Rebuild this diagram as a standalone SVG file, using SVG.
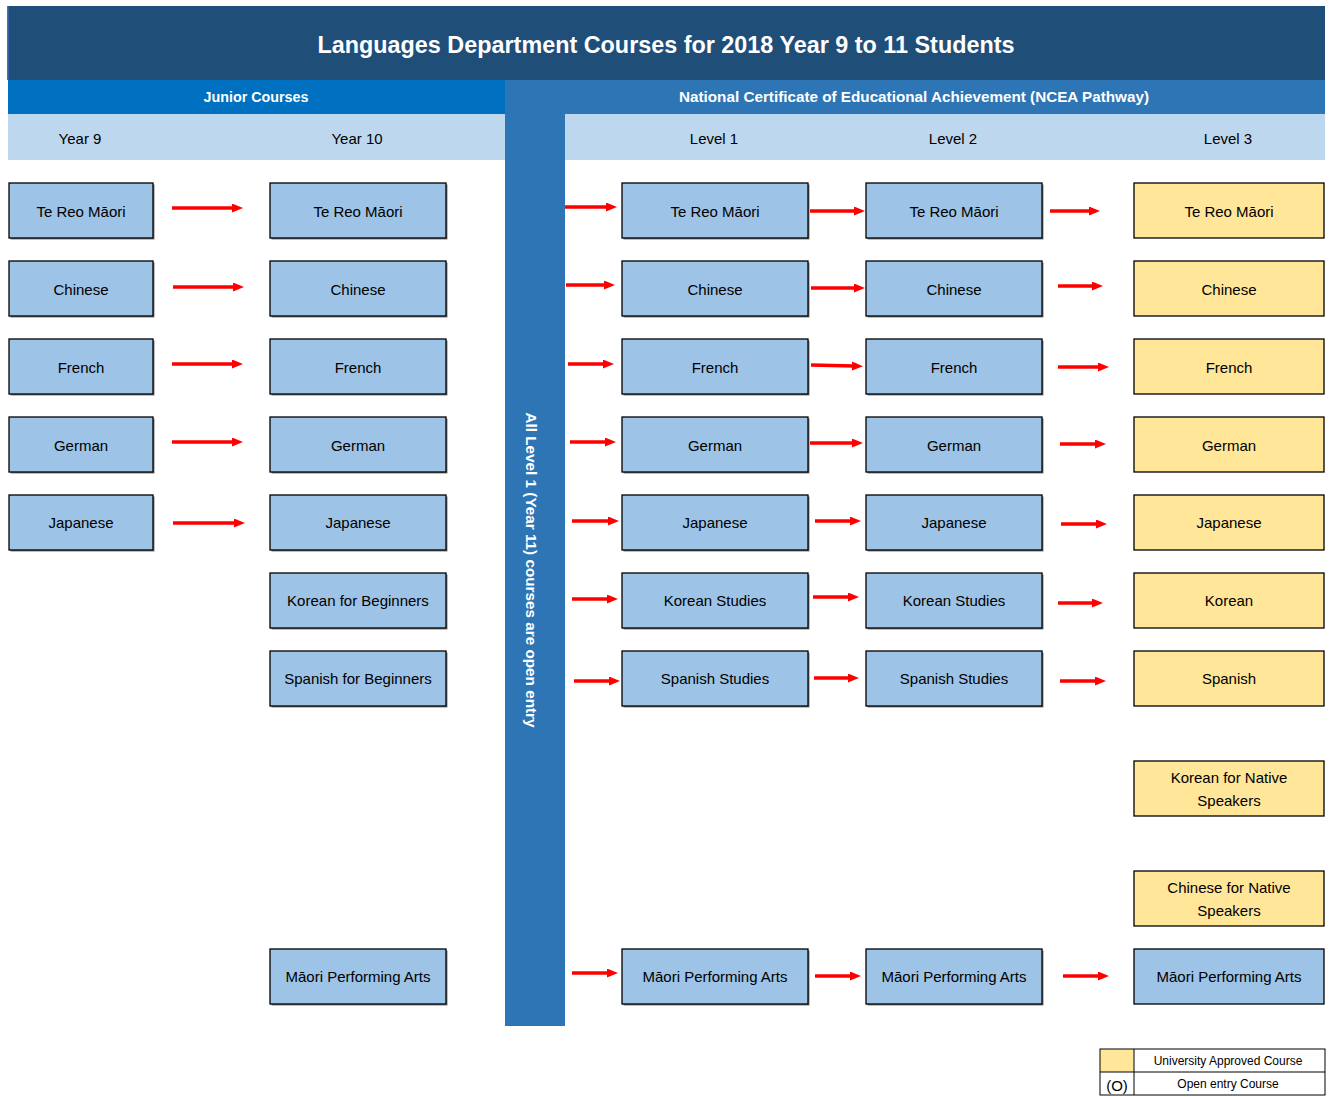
<svg xmlns="http://www.w3.org/2000/svg" width="1330" height="1097" viewBox="0 0 1330 1097">
<defs>
<marker id="ah" markerUnits="userSpaceOnUse" markerWidth="12" markerHeight="10" refX="2" refY="4.5" orient="auto">
<path d="M0,0 L11,4.5 L0,9 z" fill="#FF0000"/>
</marker>
</defs>
<style>
.t{font-family:"Liberation Sans",Arial,sans-serif;text-anchor:middle;dominant-baseline:central}
.bx{fill:#9DC3E6;stroke:#000;stroke-width:1.3}
.yl{fill:#FFE699;stroke:#000;stroke-width:1.3}
.sh{fill:#7f7f7f}
.lb{font-size:15px;fill:#000}
.hd{font-size:15px;fill:#000}
.ar{stroke:#FF0000;stroke-width:3.5;fill:none;marker-end:url(#ah)}
</style>
<rect width="1330" height="1097" fill="#FFFFFF"/>
<g id="header">
<rect x="8" y="6" width="1317" height="74" fill="#1F4E79"/>
<rect x="7" y="6" width="1.5" height="74" fill="#4472C4"/>
<text class="t" x="666" y="45" font-size="23" font-weight="bold" fill="#FFFFFF" textLength="697" lengthAdjust="spacingAndGlyphs">Languages Department Courses for 2018 Year 9 to 11 Students</text>
<rect x="8" y="80" width="497" height="34" fill="#0070C0"/>
<text class="t" x="256" y="97" font-size="14" font-weight="bold" fill="#FFFFFF" textLength="105" lengthAdjust="spacingAndGlyphs">Junior Courses</text>
<rect x="505" y="80" width="820" height="34" fill="#2E75B6"/>
<text class="t" x="914" y="97" font-size="14" font-weight="bold" fill="#FFFFFF" textLength="470" lengthAdjust="spacingAndGlyphs">National Certificate of Educational Achievement (NCEA Pathway)</text>
<rect x="8" y="114" width="497" height="46" fill="#BDD7EE"/>
<rect x="563" y="114" width="762" height="46" fill="#BDD7EE"/>
<text class="t hd" x="80" y="138">Year 9</text>
<text class="t hd" x="357" y="138">Year 10</text>
<text class="t hd" x="714" y="138">Level 1</text>
<text class="t hd" x="953" y="138">Level 2</text>
<text class="t hd" x="1228" y="138">Level 3</text>
</g>
<g id="open-entry-bar">
<rect x="505" y="114" width="60" height="912" fill="#2E75B6"/>
<text class="t" transform="translate(531,570) rotate(90)" font-size="14" font-weight="bold" fill="#FFFFFF" textLength="315" lengthAdjust="spacingAndGlyphs">All Level 1 (Year 11) courses are open entry</text>
</g>
<g id="y9-col">
<g id="y9-tereo"><rect class="sh" x="10.5" y="184.5" width="144" height="55"/><rect class="bx" x="9" y="183" width="144" height="55"/><text class="t lb" x="81" y="211">Te Reo Māori</text></g>
<g id="y9-chinese"><rect class="sh" x="10.5" y="262.5" width="144" height="55"/><rect class="bx" x="9" y="261" width="144" height="55"/><text class="t lb" x="81" y="289">Chinese</text></g>
<g id="y9-french"><rect class="sh" x="10.5" y="340.5" width="144" height="55"/><rect class="bx" x="9" y="339" width="144" height="55"/><text class="t lb" x="81" y="367">French</text></g>
<g id="y9-german"><rect class="sh" x="10.5" y="418.5" width="144" height="55"/><rect class="bx" x="9" y="417" width="144" height="55"/><text class="t lb" x="81" y="445">German</text></g>
<g id="y9-japanese"><rect class="sh" x="10.5" y="496.5" width="144" height="55"/><rect class="bx" x="9" y="495" width="144" height="55"/><text class="t lb" x="81" y="522">Japanese</text></g>
</g>
<g id="y10-col">
<g id="y10-tereo"><rect class="sh" x="271.5" y="184.5" width="176" height="55"/><rect class="bx" x="270" y="183" width="176" height="55"/><text class="t lb" x="358" y="211">Te Reo Māori</text></g>
<g id="y10-chinese"><rect class="sh" x="271.5" y="262.5" width="176" height="55"/><rect class="bx" x="270" y="261" width="176" height="55"/><text class="t lb" x="358" y="289">Chinese</text></g>
<g id="y10-french"><rect class="sh" x="271.5" y="340.5" width="176" height="55"/><rect class="bx" x="270" y="339" width="176" height="55"/><text class="t lb" x="358" y="367">French</text></g>
<g id="y10-german"><rect class="sh" x="271.5" y="418.5" width="176" height="55"/><rect class="bx" x="270" y="417" width="176" height="55"/><text class="t lb" x="358" y="445">German</text></g>
<g id="y10-japanese"><rect class="sh" x="271.5" y="496.5" width="176" height="55"/><rect class="bx" x="270" y="495" width="176" height="55"/><text class="t lb" x="358" y="522">Japanese</text></g>
<g id="y10-korean"><rect class="sh" x="271.5" y="574.5" width="176" height="55"/><rect class="bx" x="270" y="573" width="176" height="55"/><text class="t lb" x="358" y="600">Korean for Beginners</text></g>
<g id="y10-spanish"><rect class="sh" x="271.5" y="652.5" width="176" height="55"/><rect class="bx" x="270" y="651" width="176" height="55"/><text class="t lb" x="358" y="678">Spanish for Beginners</text></g>
<g id="y10-mpa"><rect class="sh" x="271.5" y="950.5" width="176" height="55"/><rect class="bx" x="270" y="949" width="176" height="55"/><text class="t lb" x="358" y="976">Māori Performing Arts</text></g>
</g>
<g id="l1-col">
<g id="l1-tereo"><rect class="sh" x="623.5" y="184.5" width="186" height="55"/><rect class="bx" x="622" y="183" width="186" height="55"/><text class="t lb" x="715" y="211">Te Reo Māori</text></g>
<g id="l1-chinese"><rect class="sh" x="623.5" y="262.5" width="186" height="55"/><rect class="bx" x="622" y="261" width="186" height="55"/><text class="t lb" x="715" y="289">Chinese</text></g>
<g id="l1-french"><rect class="sh" x="623.5" y="340.5" width="186" height="55"/><rect class="bx" x="622" y="339" width="186" height="55"/><text class="t lb" x="715" y="367">French</text></g>
<g id="l1-german"><rect class="sh" x="623.5" y="418.5" width="186" height="55"/><rect class="bx" x="622" y="417" width="186" height="55"/><text class="t lb" x="715" y="445">German</text></g>
<g id="l1-japanese"><rect class="sh" x="623.5" y="496.5" width="186" height="55"/><rect class="bx" x="622" y="495" width="186" height="55"/><text class="t lb" x="715" y="522">Japanese</text></g>
<g id="l1-korean"><rect class="sh" x="623.5" y="574.5" width="186" height="55"/><rect class="bx" x="622" y="573" width="186" height="55"/><text class="t lb" x="715" y="600">Korean Studies</text></g>
<g id="l1-spanish"><rect class="sh" x="623.5" y="652.5" width="186" height="55"/><rect class="bx" x="622" y="651" width="186" height="55"/><text class="t lb" x="715" y="678">Spanish Studies</text></g>
<g id="l1-mpa"><rect class="sh" x="623.5" y="950.5" width="186" height="55"/><rect class="bx" x="622" y="949" width="186" height="55"/><text class="t lb" x="715" y="976">Māori Performing Arts</text></g>
</g>
<g id="l2-col">
<g id="l2-tereo"><rect class="sh" x="867.5" y="184.5" width="176" height="55"/><rect class="bx" x="866" y="183" width="176" height="55"/><text class="t lb" x="954" y="211">Te Reo Māori</text></g>
<g id="l2-chinese"><rect class="sh" x="867.5" y="262.5" width="176" height="55"/><rect class="bx" x="866" y="261" width="176" height="55"/><text class="t lb" x="954" y="289">Chinese</text></g>
<g id="l2-french"><rect class="sh" x="867.5" y="340.5" width="176" height="55"/><rect class="bx" x="866" y="339" width="176" height="55"/><text class="t lb" x="954" y="367">French</text></g>
<g id="l2-german"><rect class="sh" x="867.5" y="418.5" width="176" height="55"/><rect class="bx" x="866" y="417" width="176" height="55"/><text class="t lb" x="954" y="445">German</text></g>
<g id="l2-japanese"><rect class="sh" x="867.5" y="496.5" width="176" height="55"/><rect class="bx" x="866" y="495" width="176" height="55"/><text class="t lb" x="954" y="522">Japanese</text></g>
<g id="l2-korean"><rect class="sh" x="867.5" y="574.5" width="176" height="55"/><rect class="bx" x="866" y="573" width="176" height="55"/><text class="t lb" x="954" y="600">Korean Studies</text></g>
<g id="l2-spanish"><rect class="sh" x="867.5" y="652.5" width="176" height="55"/><rect class="bx" x="866" y="651" width="176" height="55"/><text class="t lb" x="954" y="678">Spanish Studies</text></g>
<g id="l2-mpa"><rect class="sh" x="867.5" y="950.5" width="176" height="55"/><rect class="bx" x="866" y="949" width="176" height="55"/><text class="t lb" x="954" y="976">Māori Performing Arts</text></g>
</g>
<g id="l3-col">
<g id="l3-tereo"><rect class="yl" x="1134" y="183" width="190" height="55"/><text class="t lb" x="1229" y="211">Te Reo Māori</text></g>
<g id="l3-chinese"><rect class="yl" x="1134" y="261" width="190" height="55"/><text class="t lb" x="1229" y="289">Chinese</text></g>
<g id="l3-french"><rect class="yl" x="1134" y="339" width="190" height="55"/><text class="t lb" x="1229" y="367">French</text></g>
<g id="l3-german"><rect class="yl" x="1134" y="417" width="190" height="55"/><text class="t lb" x="1229" y="445">German</text></g>
<g id="l3-japanese"><rect class="yl" x="1134" y="495" width="190" height="55"/><text class="t lb" x="1229" y="522">Japanese</text></g>
<g id="l3-korean"><rect class="yl" x="1134" y="573" width="190" height="55"/><text class="t lb" x="1229" y="600">Korean</text></g>
<g id="l3-spanish"><rect class="yl" x="1134" y="651" width="190" height="55"/><text class="t lb" x="1229" y="678">Spanish</text></g>
<g id="l3-korean-native"><rect class="yl" x="1134" y="761" width="190" height="55"/><text class="t lb" x="1229" y="777">Korean for Native</text><text class="t lb" x="1229" y="800">Speakers</text></g>
<g id="l3-chinese-native"><rect class="yl" x="1134" y="871" width="190" height="55"/><text class="t lb" x="1229" y="887">Chinese for Native</text><text class="t lb" x="1229" y="910">Speakers</text></g>
<g id="l3-mpa"><rect class="bx" x="1134" y="949" width="190" height="55"/><text class="t lb" x="1229" y="976">Māori Performing Arts</text></g>
</g>
<g id="connectors">
<line class="ar" x1="172" y1="208" x2="234" y2="208"/>
<line class="ar" x1="173" y1="287" x2="235" y2="287"/>
<line class="ar" x1="172" y1="364" x2="234" y2="364"/>
<line class="ar" x1="172" y1="442" x2="234" y2="442"/>
<line class="ar" x1="173" y1="523" x2="236" y2="523"/>
<line class="ar" x1="565" y1="207" x2="608" y2="207"/>
<line class="ar" x1="566" y1="285" x2="606" y2="285"/>
<line class="ar" x1="568" y1="364" x2="605" y2="364"/>
<line class="ar" x1="570" y1="442" x2="607" y2="442"/>
<line class="ar" x1="572" y1="521" x2="610" y2="521"/>
<line class="ar" x1="572" y1="599" x2="609" y2="599"/>
<line class="ar" x1="574" y1="681" x2="611" y2="681"/>
<line class="ar" x1="572" y1="973" x2="609" y2="973"/>
<line class="ar" x1="810" y1="211" x2="856" y2="211"/>
<line class="ar" x1="811" y1="288" x2="856" y2="288"/>
<line class="ar" x1="811" y1="365" x2="854" y2="366"/>
<line class="ar" x1="810" y1="443" x2="854" y2="443"/>
<line class="ar" x1="815" y1="521" x2="852" y2="521"/>
<line class="ar" x1="813" y1="597" x2="850" y2="597"/>
<line class="ar" x1="814" y1="678" x2="850" y2="678"/>
<line class="ar" x1="815" y1="976" x2="852" y2="976"/>
<line class="ar" x1="1050" y1="211" x2="1091" y2="211"/>
<line class="ar" x1="1058" y1="286" x2="1094" y2="286"/>
<line class="ar" x1="1058" y1="367" x2="1100" y2="367"/>
<line class="ar" x1="1060" y1="444" x2="1097" y2="444"/>
<line class="ar" x1="1061" y1="524" x2="1098" y2="524"/>
<line class="ar" x1="1058" y1="603" x2="1094" y2="603"/>
<line class="ar" x1="1060" y1="681" x2="1097" y2="681"/>
<line class="ar" x1="1063" y1="976" x2="1100" y2="976"/>
</g>
<g id="legend">
<rect x="1100" y="1049" width="34" height="23" fill="#FFE699"/>
<rect x="1100" y="1049" width="225" height="46" fill="none" stroke="#000" stroke-width="1"/>
<line x1="1100" y1="1072" x2="1325" y2="1072" stroke="#000" stroke-width="1"/>
<line x1="1134" y1="1049" x2="1134" y2="1095" stroke="#000" stroke-width="1"/>
<text class="t" x="1228" y="1061" font-size="12" fill="#000">University Approved Course</text>
<text class="t" x="1228" y="1084" font-size="12" fill="#000">Open entry Course</text>
<text class="t" x="1117" y="1085" font-size="15" fill="#000">(O)</text>
</g>
</svg>
